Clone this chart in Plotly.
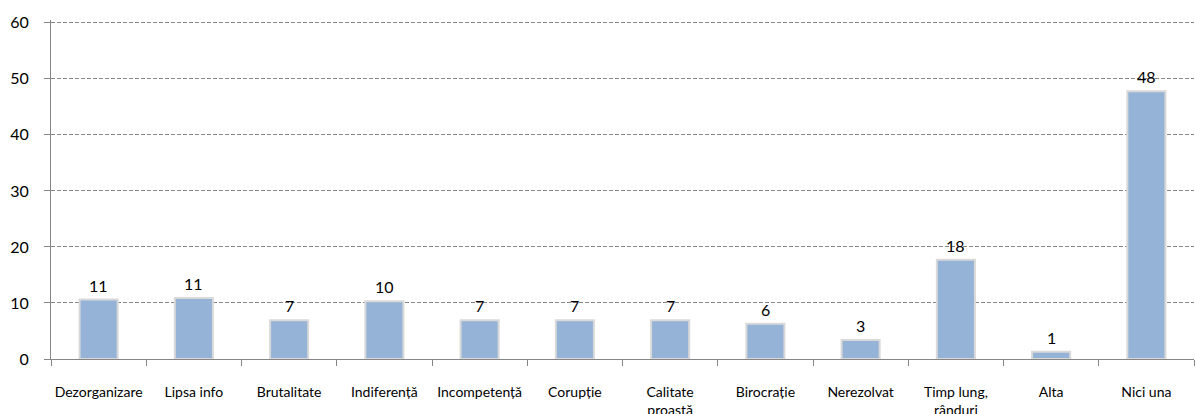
import plotly.graph_objects as go

# Survey answers: problems encountered (percent of respondents)
categories = [
    "Dezorganizare", "Lipsa info", "Brutalitate", "Indiferență", "Incompetență",
    "Corupție", "Calitate<br>proastă", "Birocrație", "Nerezolvat",
    "Timp lung,<br>rânduri", "Alta", "Nici una",
]
values = [10.6, 10.9, 6.9, 10.3, 6.9, 6.9, 6.9, 6.3, 3.4, 17.7, 1.3, 47.8]
y_ticks = [0, 10, 20, 30, 40, 50, 60]

FONT = "Lato, Open Sans, sans-serif"

fig = go.Figure(
    go.Bar(
        x=categories,
        y=values,
        marker=dict(color="#95b3d7", line=dict(color="#d9d9d9", width=2)),
        hoverinfo="x+y",
    )
)

# value labels above each bar, taken from the same values
for cat, v in zip(categories, values):
    fig.add_annotation(
        x=cat, y=v, text=f"{v:.0f}", showarrow=False,
        yanchor="bottom", yshift=3,
        font=dict(family=FONT, size=16, color="#000000"),
    )

fig.update_layout(
    width=1196,
    height=414,
    margin=dict(l=51, r=2, t=20, b=55),
    paper_bgcolor="white",
    plot_bgcolor="white",
    showlegend=False,
    bargap=0.6,
    font=dict(family=FONT, color="#000000"),
)

fig.update_xaxes(
    type="category",
    showline=True,
    linecolor="#868686",
    linewidth=1,
    ticks="outside",
    tickson="boundaries",
    ticklen=6,
    tickcolor="#868686",
    tickfont=dict(size=14),
    tickangle=0,
    automargin=False,
    ticklabelstandoff=20,
    showgrid=False,
)

fig.update_yaxes(
    range=[0, 60.5],
    tickvals=y_ticks,
    showline=True,
    linecolor="#868686",
    linewidth=1,
    ticks="outside",
    ticklen=6,
    tickcolor="#868686",
    tickfont=dict(size=16),
    ticklabelstandoff=12,
    automargin=False,
    showgrid=True,
    gridcolor="#868686",
    griddash="4px,2px",
    gridwidth=1,
    zeroline=False,
)

fig.write_html("out.html")
